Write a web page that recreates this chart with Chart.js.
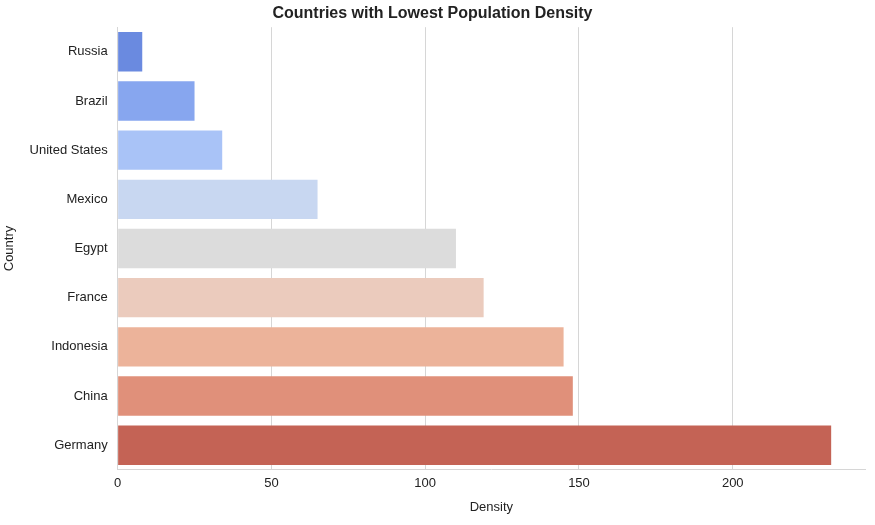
<!DOCTYPE html>
<html>
<head>
<meta charset="utf-8">
<script src="https://cdn.jsdelivr.net/npm/chart.js@4"></script>
<style>
  html, body { margin: 0; padding: 0; background: #fff; }
  #wrap { width: 875px; height: 525px; }
</style>
</head>
<body>
<div id="wrap"><canvas id="chart" width="875" height="525"></canvas></div>
<script>
var countries = ['Russia', 'Brazil', 'United States', 'Mexico', 'Egypt', 'France', 'Indonesia', 'China', 'Germany'];
var densities = [8, 25, 34, 65, 110, 119, 145, 148, 232];
var barColors = ['#6a8ae0', '#87a6ef', '#a9c3f7', '#c8d7f1', '#dcdcdc', '#ebcbbd', '#ecb39a', '#e0907a', '#c46355'];
var xTicks = [0, 50, 100, 150, 200];

var font = { family: 'Arial, "Liberation Sans", sans-serif', size: 13 };

new Chart(document.getElementById('chart'), {
  type: 'bar',
  data: {
    labels: countries,
    datasets: [{
      label: 'Density',
      data: densities,
      backgroundColor: barColors,
      categoryPercentage: 0.8,
      barPercentage: 1.0
    }]
  },
  options: {
    indexAxis: 'y',
    responsive: false,
    animation: false,
    layout: { padding: { top: 2, right: 10, bottom: 8, left: 0 } },
    plugins: {
      legend: { display: false },
      title: {
        display: true,
        text: 'Countries with Lowest Population Density',
        color: '#222',
        font: { family: font.family, size: 16 },
        padding: { top: 2, bottom: 4 }
      }
    },
    scales: {
      x: {
        min: 0,
        max: 243,
        afterBuildTicks: function (axis) {
          axis.ticks = xTicks.map(function (v) { return { value: v }; });
        },
        grid: { color: '#d6d6d6', drawTicks: false },
        border: { color: '#d6d6d6' },
        ticks: { color: '#222', font: font, padding: 6 },
        title: { display: true, text: 'Density', color: '#222', font: font, padding: 2 }
      },
      y: {
        grid: { display: false, drawTicks: false },
        border: { color: '#d6d6d6' },
        ticks: { color: '#222', font: font, padding: 10 },
        title: { display: true, text: 'Country', color: '#222', font: font, padding: 2 }
      }
    }
  }
});
</script>
</body>
</html>
